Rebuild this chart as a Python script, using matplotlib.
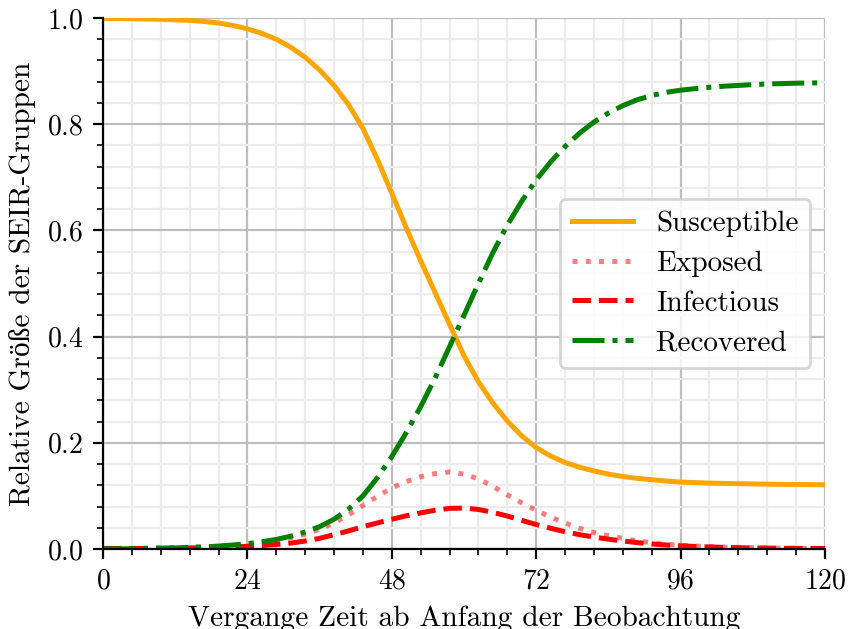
import matplotlib
matplotlib.use("Agg")
import matplotlib.pyplot as plt
from matplotlib.ticker import MultipleLocator, AutoMinorLocator

plt.rcParams['font.family'] = ['cmr10', 'Liberation Serif']
plt.rcParams['axes.formatter.use_mathtext'] = True
plt.rcParams['mathtext.fontset'] = 'cm'
plt.rcParams['font.size'] = 10

# time points (hours), every 2.4 h
t = [0, 2.4, 4.8, 7.2, 9.6, 12, 14.4, 16.8, 19.2, 21.6, 24, 26.4, 28.8, 31.2,
     33.6, 36, 38.4, 40.8, 43.2, 45.6, 48, 50.4, 52.8, 55.2, 57.6, 60, 62.4,
     64.8, 67.2, 69.6, 72, 74.4, 76.8, 79.2, 81.6, 84, 86.4, 88.8, 91.2, 93.6,
     96, 98.4, 100.8, 103.2, 105.6, 108, 110.4, 112.8, 115.2, 117.6, 120]

susceptible = [0.999, 0.999, 0.9985, 0.998, 0.9975, 0.9965, 0.9955, 0.9935,
               0.9905, 0.986, 0.9795, 0.971, 0.960, 0.945, 0.926, 0.902,
               0.873, 0.837, 0.792, 0.734, 0.670, 0.605, 0.543, 0.483, 0.423,
               0.364, 0.315, 0.275, 0.241, 0.213, 0.191, 0.175, 0.163, 0.154,
               0.147, 0.141, 0.1365, 0.133, 0.1305, 0.128, 0.126, 0.125,
               0.124, 0.1235, 0.123, 0.1225, 0.122, 0.1217, 0.1214, 0.1212,
               0.121]

exposed = [0.001, 0.001, 0.001, 0.0015, 0.002, 0.0025, 0.003, 0.004, 0.005,
           0.007, 0.009, 0.012, 0.016, 0.021, 0.028, 0.037, 0.049, 0.064,
           0.082, 0.099, 0.115, 0.127, 0.136, 0.142, 0.145, 0.141, 0.132,
           0.118, 0.102, 0.087, 0.073, 0.060, 0.049, 0.039, 0.031, 0.025,
           0.020, 0.015, 0.012, 0.009, 0.007, 0.0055, 0.0045, 0.0035, 0.003,
           0.0025, 0.002, 0.0015, 0.0013, 0.0011, 0.001]

infectious = [0.001, 0.001, 0.001, 0.001, 0.0012, 0.0015, 0.002, 0.0025,
              0.003, 0.004, 0.005, 0.0065, 0.0085, 0.011, 0.015, 0.020,
              0.027, 0.034, 0.042, 0.049, 0.056, 0.0625, 0.068, 0.073,
              0.0765, 0.077, 0.0745, 0.069, 0.062, 0.054, 0.046, 0.039,
              0.0325, 0.027, 0.0225, 0.0185, 0.015, 0.012, 0.0095, 0.0075,
              0.006, 0.0048, 0.0038, 0.003, 0.0024, 0.002, 0.0016, 0.0013,
              0.0011, 0.001, 0.001]

recovered = [0.0, 0.0003, 0.0006, 0.001, 0.0015, 0.002, 0.003, 0.004, 0.0055,
             0.0075, 0.010, 0.0135, 0.018, 0.024, 0.032, 0.042, 0.056, 0.075,
             0.100, 0.134, 0.174, 0.219, 0.268, 0.322, 0.381, 0.440, 0.500,
             0.558, 0.610, 0.655, 0.695, 0.729, 0.758, 0.783, 0.804, 0.821,
             0.835, 0.846, 0.854, 0.860, 0.864, 0.867, 0.8695, 0.8715, 0.873,
             0.8745, 0.8757, 0.8765, 0.8772, 0.8777, 0.878]

labels = ["Susceptible", "Exposed", "Infectious", "Recovered"]

fig = plt.figure(figsize=(4.245, 3.145), dpi=200)
ax = fig.add_axes([0.1213, 0.1272, 0.8504, 0.8442])

lw = 1.8
ax.plot(t, susceptible, color='orange', lw=lw, ls='-', label=labels[0])
ax.plot(t, exposed, color='red', alpha=0.5, lw=lw, ls=':', label=labels[1])
ax.plot(t, infectious, color='red', lw=lw, ls='--', label=labels[2])
ax.plot(t, recovered, color='green', lw=lw, ls='-.', label=labels[3])

ax.set_xlim(0, 120)
ax.set_ylim(0, 1)
ax.xaxis.set_major_locator(MultipleLocator(24))
ax.xaxis.set_minor_locator(AutoMinorLocator(5))
ax.yaxis.set_major_locator(MultipleLocator(0.2))
ax.yaxis.set_minor_locator(AutoMinorLocator(5))
ax.grid(which='major', color='#bdbdbd', lw=0.8)
ax.grid(which='minor', color='#ececec', lw=0.8)
ax.set_axisbelow(True)
for s in ['top', 'right']:
    ax.spines[s].set_visible(False)

ax.set_xlabel("Vergange Zeit ab Anfang der Beobachtung", fontsize=10.6)
ax.set_ylabel("Relative Größe der SEIR-Gruppen", fontsize=10.6)
ax.legend(loc='center right', fontsize=10.5, handlelength=2.1,
          labelspacing=0.45)

fig.savefig("out.png", dpi=200)
